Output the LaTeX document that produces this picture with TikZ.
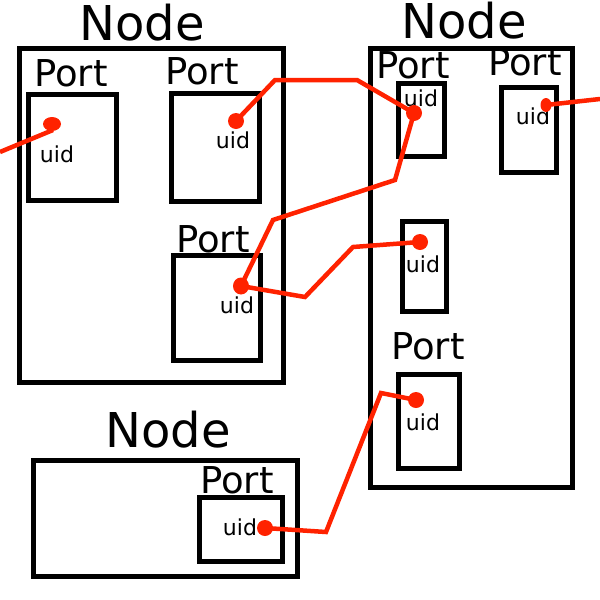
\documentclass[tikz,border=0pt]{standalone}
\usepackage{fontspec}
\setmainfont{DejaVu Sans}
\definecolor{wire}{RGB}{255,34,0}
\tikzset{
  box/.style={draw=black, line width=5pt, inner sep=0pt, rectangle},
  title/.style={anchor=base, inner sep=0pt, font=\fontsize{48}{48}\selectfont},
  plabel/.style={anchor=base, inner sep=0pt, font=\fontsize{37}{37}\selectfont},
  uidlabel/.style={anchor=base, inner sep=0pt, font=\fontsize{22}{22}\selectfont},
  dot/.style={ellipse, fill=wire, inner sep=0pt, minimum width=16pt, minimum height=16pt},
  wireline/.style={draw=wire, line width=4.5pt, line join=miter}
}
\usetikzlibrary{shapes.geometric}
\begin{document}
\begin{tikzpicture}[x=1pt,y=-1pt]
\useasboundingbox (0,0) rectangle (600,600);
% Node 1
\node[box, minimum width=264pt, minimum height=334pt] (n1) at (151.5,215) {};
\node[title] (t1) at (142,40) {Node};
\node[box, minimum width=88pt, minimum height=106pt] (pA) at (72.5,147) {};
\node[plabel] (lA) at (71,86) {Port};
\node[uidlabel] (uA) at (57,162) {uid};
\node[box, minimum width=88pt, minimum height=108pt] (pB) at (215.5,147.5) {};
\node[plabel] (lB) at (202,84) {Port};
\node[uidlabel] (uB) at (233,148) {uid};
\node[box, minimum width=87pt, minimum height=105pt] (pC) at (216.5,308) {};
\node[plabel] (lC) at (213,252) {Port};
\node[uidlabel] (uC) at (237,313) {uid};
% Node 2
\node[box, minimum width=202pt, minimum height=439pt] (n2) at (471.5,268) {};
\node[title] (t2) at (464,38) {Node};
\node[box, minimum width=46pt, minimum height=73pt] (pD) at (421.5,120) {};
\node[plabel] (lD) at (413,78) {Port};
\node[uidlabel] (uD) at (421,106) {uid};
\node[box, minimum width=55pt, minimum height=85pt] (pE) at (529,130) {};
\node[plabel] (lE) at (525,75) {Port};
\node[uidlabel] (uE) at (533,124) {uid};
\node[box, minimum width=44pt, minimum height=90pt] (pF) at (424.5,266.5) {};
\node[uidlabel] (uF) at (423,272) {uid};
\node[box, minimum width=61pt, minimum height=94pt] (pG) at (429,421) {};
\node[plabel] (lG) at (428,359) {Port};
\node[uidlabel] (uG) at (423,430) {uid};
% Node 3
\node[box, minimum width=264pt, minimum height=116pt] (n3) at (165.5,518.5) {};
\node[title] (t3) at (168,447) {Node};
\node[box, minimum width=83pt, minimum height=64pt] (pH) at (241,529.5) {};
\node[plabel] (lH) at (237,493) {Port};
\node[uidlabel] (uH) at (240,535) {uid};
% wires
\coordinate (freeL) at (0,152);
\coordinate (freeR) at (600,99);
\coordinate (cA) at (52,124);
\coordinate (cB) at (236,121);
\coordinate (cC) at (241,286);
\coordinate (cD) at (414,113);
\coordinate (cE) at (546,105);
\coordinate (cF) at (420,242);
\coordinate (cG) at (416,400);
\coordinate (cH) at (265,528);
\draw[wireline] (freeL) -- (53,130);
\draw[wireline] (cB) -- (275,80) -- (357,80) -- (cD);
\draw[wireline] (cD) -- (395,180) -- (273,220) -- (cC);
\draw[wireline] (cC) -- (305,297) -- (353,247) -- (cF);
\draw[wireline] (cH) -- (326,532) -- (381,393) -- (cG);
\draw[wireline] (cE) -- (freeR);
% dots
\node[dot, minimum width=18pt, minimum height=14pt] (dA) at (cA) {};
\node[dot] (dB) at (cB) {};
\node[dot, minimum height=17pt] (dC) at (cC) {};
\node[dot] (dD) at (cD) {};
\node[dot, minimum width=11pt, minimum height=14pt] (dE) at (cE) {};
\node[dot] (dF) at (cF) {};
\node[dot] (dG) at (cG) {};
\node[dot] (dH) at (cH) {};
\end{tikzpicture}
\end{document}
